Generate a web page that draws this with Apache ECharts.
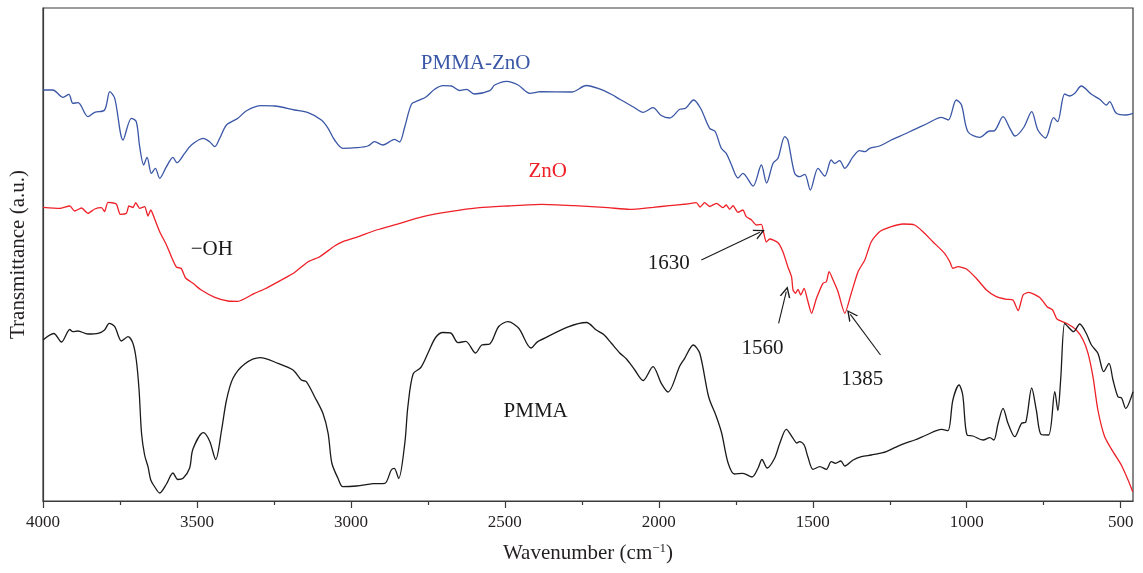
<!DOCTYPE html>
<html>
<head>
<meta charset="utf-8">
<script src="https://cdn.jsdelivr.net/npm/echarts@6/dist/echarts.min.js"></script>
<style>html,body{margin:0;padding:0;background:#fff;}#c{width:1143px;height:573px;}</style>
</head>
<body>
<div id="c"></div>
<script>
// ---- data (wavenumber in cm^-1, transmittance in arbitrary units) ----
const pmmaZnoWn = [4000,3968,3935,3916,3903,3886,3854,3832,3800,3783,3767,3740,3713,3697,3686,3673,3662,3648,3635,3621,3599,3578,3565,3540,3518,3480,3459,3442,3426,3404,3367,3339,3291,3248,3183,3139,3096,3074,3053,3026,2982,2945,2923,2896,2858,2842,2825,2803,2782,2755,2728,2701,2674,2647,2625,2598,2549,2533,2494,2457,2419,2384,2283,2235,2195,2153,2127,2084,2051,2019,1992,1965,1932,1913,1887,1864,1835,1817,1797,1781,1764,1743,1727,1694,1667,1650,1629,1613,1591,1581,1559,1543,1526,1508,1483,1461,1440,1429,1413,1396,1369,1348,1331,1315,1283,1245,1201,1169,1131,1082,1060,1034,1017,996,958,925,912,882,860,843,815,789,769,744,718,705,682,666,649,628,595,568,546,536,514,482,460];
const pmmaZnoT = [411,411,403.7,406.7,397.7,398.3,384.3,388.7,391,409.3,402.7,361,382.7,379.3,354.3,336,343.7,327.7,332.7,322.7,334.3,343.7,338.3,347.7,356,362.7,359.3,354.3,362.7,376,382.7,390.3,395.3,395,391,388.3,381,372.7,361,352.7,353.3,355,359.3,356,361.7,359,374.3,397,400.3,404.3,411.7,415.3,415,410.5,411.7,407,410.3,416,419.7,416,407.7,409.3,409,415.5,412.3,406.5,401.7,394.3,388.7,393.3,385.5,383,391.7,392.7,401,392.5,372.7,369.5,352.7,347.7,336,323,327.7,315,336,318,337.7,342.7,364.3,361,327.7,324.3,326.7,311,332.7,325,341,337.7,340.3,332.7,344.3,350.3,349.3,352.7,355,361,367,371.7,377,383.7,381,401,396,369.3,363.7,370,370,384.3,372.7,365,373.5,389.3,371,363,383.3,379.3,407,405,407.7,415,406.7,401.7,396,399.3,387.7,386,387.7];

const znoWn = [4000,3946,3913,3897,3875,3854,3832,3810,3800,3789,3762,3749,3729,3721,3708,3699,3686,3670,3659,3650,3637,3621,3599,3583,3567,3551,3537,3513,3486,3442,3399,3367,3313,3280,3226,3183,3139,3101,3053,3026,2982,2917,2852,2766,2679,2582,2490,2381,2273,2165,2095,2019,1965,1910,1878,1866,1851,1835,1813,1792,1781,1770,1759,1743,1727,1716,1699,1683,1667,1659,1651,1640,1613,1597,1581,1569,1564,1556,1548,1539,1528,1517,1504,1488,1467,1456,1447,1434,1418,1396,1375,1353,1331,1310,1283,1245,1207,1169,1142,1110,1072,1055,1045,1028,1001,969,936,904,871,850,833,817,799,763,739,721,707,676,644,622,606,590,574,552,525,498,476,461];
const znoT = [293.7,292.7,295,290,293,287.7,292,293.3,289.3,298.7,297,286.7,287.7,295,293.5,298.3,292.7,294.3,285,291,281.7,269.3,256,244.3,234,232.5,223,217.7,211,203.7,200,199.7,207.7,212,221,228.5,239.3,244.3,255,259.3,263.7,271,276.7,284.3,289.3,293.3,295,296.7,295.3,293.3,291.7,293.7,295.3,297,298.3,294,298.3,294.5,297.7,293.3,296,291.7,295.3,288.7,291,284.3,281,276,276.7,267.7,259,262,258.3,249.3,234.3,224.3,211,207.7,211.7,206,212.7,201,187.7,202.7,217.7,219.3,229.3,221,209.3,187.7,207.7,229.3,241,259.3,269.3,274.3,277,276,269.3,259.3,247.7,239.3,232.7,234.3,232,222.7,211,204.3,201.7,201,190.3,206,208.7,203.5,194.3,191,182,177.7,171,161,147.7,124.3,91,64.3,49.3,36,21,9.3];

const pmmaWn = [4000,3965,3940,3913,3903,3887,3854,3821,3800,3785,3767,3745,3724,3708,3697,3688,3680,3670,3659,3650,3637,3621,3599,3578,3562,3545,3524,3513,3479,3459,3439,3420,3404,3383,3345,3295,3237,3188,3161,3145,3118,3091,3074,3062,3042,3026,2982,2928,2890,2869,2859,2845,2825,2815,2798,2773,2750,2725,2701,2676,2652,2627,2595,2575,2549,2520,2490,2455,2415,2392,2235,2203,2179,2154,2127,2105,2078,2051,2019,1992,1970,1932,1916,1888,1867,1838,1813,1796,1775,1754,1727,1697,1678,1665,1648,1624,1607,1586,1564,1552,1543,1528,1516,1499,1477,1456,1440,1426,1409,1396,1369,1342,1310,1272,1234,1201,1169,1131,1082,1061,1045,1025,1013,999,980,947,925,912,898,882,866,844,822,808,789,774,758,734,714,704,695,682,671,653,633,612,595,574,555,538,525,509,497,484,460];
const pmmaT = [161,167.5,159,171.5,169.3,170,167,167.7,171,177.7,174.3,160,164.3,157.7,141,111,67.7,46,34.3,21,14,8,17,28,21.5,22.7,32.7,52,68.3,60,41.5,71,101,122.7,137,143.3,137.7,131,121,119.3,104.3,87.7,67.7,38,22.7,14.3,15,17.3,17.7,31,32.7,22.5,57.7,94.3,127,133.5,147.7,163.5,168.5,168,158.3,159.7,148,156,157,174.5,179.3,172.7,153,159.7,178.5,171,166.5,157.7,148,142,131,120.5,134.3,117.7,109,135,142.7,156,147.7,104,84.3,68,38,27,27.7,24,32.7,41.5,33,42.7,57.7,71.7,62.7,58,59.3,56,44.3,31.7,34.3,31.7,39.3,37.7,40,35,41,44.3,46,48.3,53.3,57.7,61,66,71.7,70.3,101,116,106,66,65,61,63.3,61,77.7,92.7,77.7,64.3,77.7,79,113,91,66.5,66,109.3,90.5,121,177.7,174.3,169.3,177,167.7,156,147.7,129.3,137.7,121,104.3,103,92.7,109.3];

const wnTicks = [4000,3500,3000,2500,2000,1500,1000,500];
const wnMinorTicks = [3750,3250,2750,2250,1750,1250,750];

const labelTexts = ['PMMA-ZnO','ZnO','\u2212OH','PMMA','1630','1560','1385'];
const labelWn = [2595,2361,3452,2400,1968,1663,1339];
const labelT = [438,330,252,90,238,153,121.5];

const arrowFromWn = [1862,1611,1280];
const arrowFromT = [241,177.7,146];
const arrowToWn = [1672,1586,1378];
const arrowToT = [268.7,209.3,186.7];

// ---- build ----
const zip = (a, b) => a.map((v, i) => [v, b[i]]);
const FONT = 'Liberation Serif';
const BLUE = '#3a56a6', RED = '#ee2028', BLACK = '#1a1a1a';
const labelColors = [BLUE, RED, BLACK, BLACK, BLACK, BLACK, BLACK];

const chart = echarts.init(document.getElementById('c'), null, {renderer: 'canvas'});
chart.setOption({
  animation: false,
  backgroundColor: '#fff',
  grid: {left: 43, right: 10, top: 8, bottom: 72, show: true, borderColor: '#3a3a3a', borderWidth: 1.2},
  xAxis: [{
    type: 'value', min: 460, max: 4000, inverse: true,
    name: 'Wavenumber (cm{sup|\u22121})', nameLocation: 'middle', nameGap: 41,
    nameTextStyle: {fontFamily: FONT, fontSize: 21, color: '#231f20',
      rich: {sup: {fontFamily: FONT, fontSize: 13, color: '#231f20', padding: [0, 0, 10, 0]}}},
    axisLine: {show: true, lineStyle: {color: '#3a3a3a', width: 1.2}},
    axisTick: {show: true, length: 7, customValues: wnTicks, lineStyle: {color: '#3a3a3a', width: 1.2}},
    axisLabel: {show: true, customValues: wnTicks, margin: 13, fontFamily: FONT, fontSize: 17, color: '#231f20',
      formatter: v => String(v)},
    splitLine: {show: false}
  }, {
    type: 'value', min: 460, max: 4000, inverse: true, position: 'bottom',
    axisLine: {show: false},
    axisTick: {show: true, length: 4, customValues: wnMinorTicks, lineStyle: {color: '#3a3a3a', width: 1.2}},
    axisLabel: {show: false},
    splitLine: {show: false}
  }],
  yAxis: {
    type: 'value', min: 0, max: 493,
    name: 'Transmittance (a.u.)', nameLocation: 'middle', nameGap: 14, nameRotate: 90,
    nameTextStyle: {fontFamily: FONT, fontSize: 21, color: '#231f20'},
    axisLine: {show: true, lineStyle: {color: '#3a3a3a', width: 1.2}},
    axisTick: {show: false}, axisLabel: {show: false}, splitLine: {show: false}
  },
  series: [{
    name: 'PMMA-ZnO', type: 'line', data: zip(pmmaZnoWn, pmmaZnoT), showSymbol: false, smooth: 0.3,
    lineStyle: {color: BLUE, width: 1.3}, silent: true
  }, {
    name: 'ZnO', type: 'line', data: zip(znoWn, znoT), showSymbol: false, smooth: 0.2,
    lineStyle: {color: RED, width: 1.3}, silent: true
  }, {
    name: 'PMMA', type: 'line', data: zip(pmmaWn, pmmaT), showSymbol: false, smooth: 0.3,
    lineStyle: {color: BLACK, width: 1.3}, silent: true,
    markPoint: {
      silent: true, symbol: 'circle', symbolSize: 0,
      data: labelTexts.map((t, i) => ({
        coord: [labelWn[i], labelT[i]],
        label: {show: true, position: 'inside', formatter: t, color: labelColors[i], fontFamily: FONT, fontSize: 21}
      }))
    },
    markLine: {
      silent: true, animation: false,
      symbol: ['none', 'path://M0,10 L5,0 L10,10 L8.6,10 L5,2.8 L1.4,10 Z'],
      symbolSize: 11,
      itemStyle: {color: BLACK},
      lineStyle: {color: BLACK, width: 1.1, type: 'solid'},
      label: {show: false},
      data: arrowFromWn.map((w, i) => [
        {coord: [w, arrowFromT[i]]},
        {coord: [arrowToWn[i], arrowToT[i]]}
      ])
    }
  }]
});
</script>
</body>
</html>
